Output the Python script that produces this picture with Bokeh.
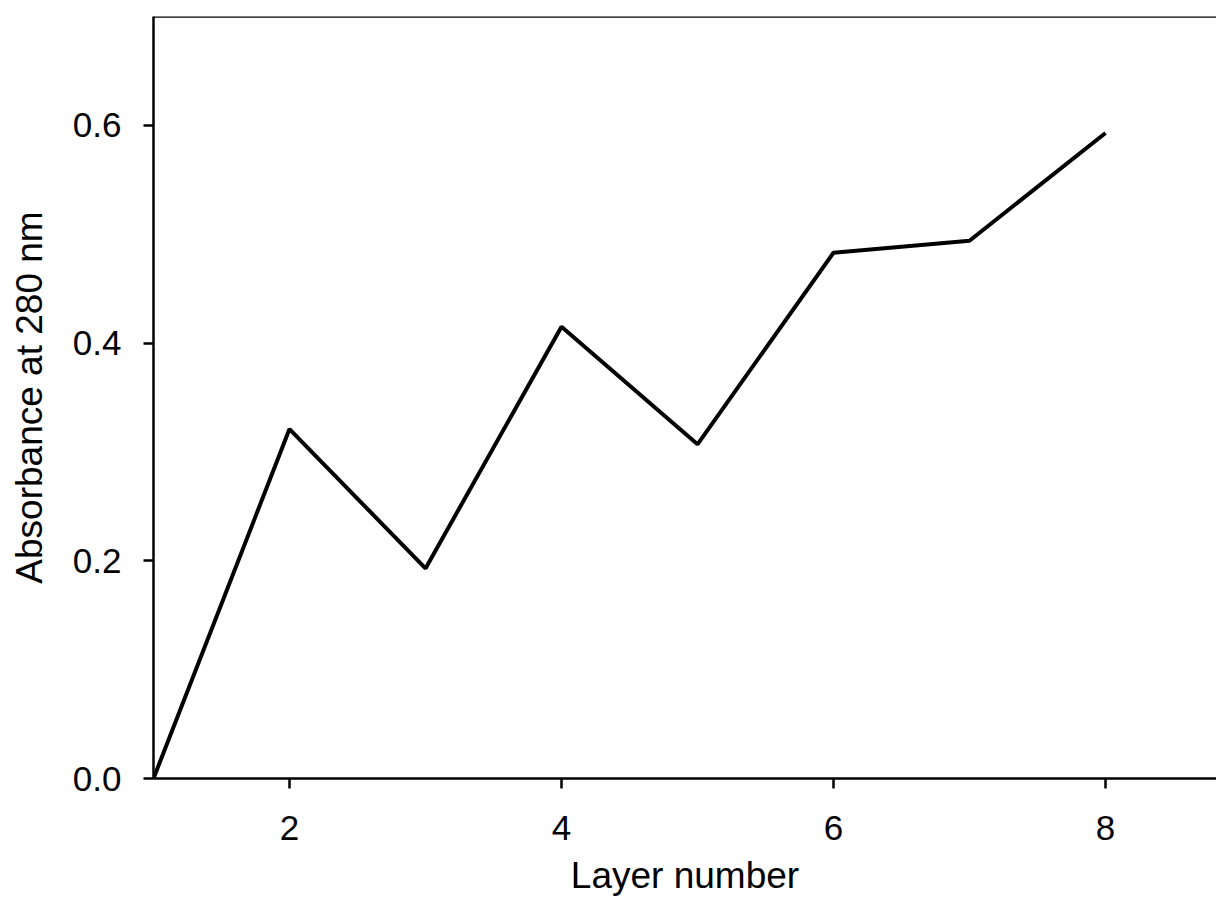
from bokeh.plotting import figure
from bokeh.models import Range1d, FixedTicker, PrintfTickFormatter, Span
from bokeh.embed import file_html
from bokeh.resources import INLINE

layers = [1, 2, 3, 4, 5, 6, 7, 8]
absorbance = [0.0, 0.321, 0.193, 0.415, 0.307, 0.483, 0.494, 0.593]
x_ticks = [2, 4, 6, 8]
y_ticks = [0.0, 0.2, 0.4, 0.6]
x_title = "Layer number"
y_title = "Absorbance at 280 nm"

FONT = "Liberation Sans"

W, H = 1216, 898
LEFT, TOP, BOTTOM_Y = 153, 16, 778

p = figure(width=W, height=H, output_backend="svg", toolbar_location=None,
           x_range=Range1d(1, 1 + (W - LEFT) / 136.0), y_range=Range1d(0, 0.7),
           min_border_left=LEFT, min_border_top=TOP, min_border_bottom=H - BOTTOM_Y,
           min_border_right=0)
p.outline_line_color = None
p.grid.visible = False
p.background_fill_color = "white"
p.border_fill_color = "white"

p.line(layers, absorbance, line_color="black", line_width=4)

p.add_layout(Span(location=0.7, dimension="width", line_color="black", line_width=2.5))

for ax in (p.xaxis[0], p.yaxis[0]):
    ax.axis_line_color = "black"
    ax.axis_line_width = 2.5
    ax.major_tick_line_color = "black"
    ax.major_tick_line_width = 2.5
    ax.major_tick_out = 10
    ax.major_tick_in = 0
    ax.minor_tick_line_color = None
    ax.major_label_text_font = FONT
    ax.major_label_text_font_size = "35px"
    ax.major_label_text_color = "black"
    ax.axis_label_text_font = FONT
    ax.axis_label_text_font_size = "37px"
    ax.axis_label_text_font_style = "normal"
    ax.axis_label_text_color = "black"

p.xaxis[0].ticker = FixedTicker(ticks=x_ticks)
p.yaxis[0].ticker = FixedTicker(ticks=y_ticks)
p.yaxis[0].formatter = PrintfTickFormatter(format="%.1f")
p.xaxis[0].axis_label = x_title
p.yaxis[0].axis_label = y_title
p.xaxis[0].major_label_standoff = 27
p.xaxis[0].axis_label_standoff = 12
p.yaxis[0].major_label_standoff = 22
p.yaxis[0].axis_label_standoff = 20

open("out.html", "w").write(file_html(p, INLINE))
